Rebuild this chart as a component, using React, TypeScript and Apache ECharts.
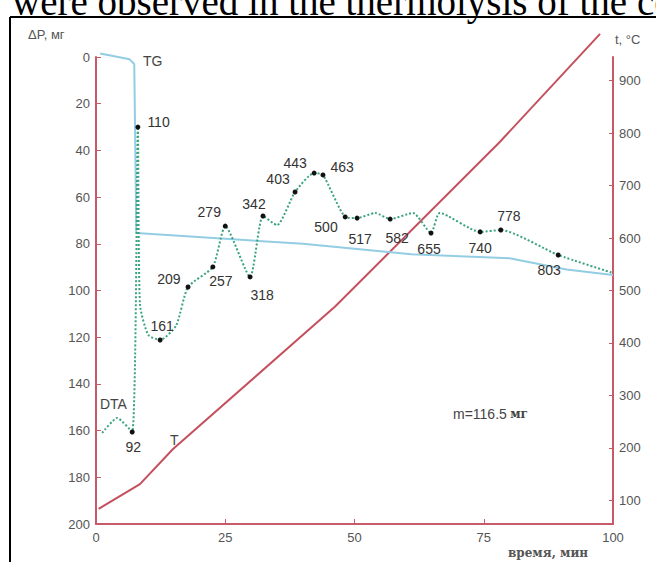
import { useEffect, useRef } from "react";
import * as echarts from "echarts";

// Temperature curve T (min, °C)
const tTime = [0.5, 8.5, 14.9, 46.2, 78.1, 97.5];
const tTemp = [84, 131, 198, 469, 783, 989];

// TG curve (min, mg)
const tgTime = [0.8, 6.5, 7.4, 7.8, 40, 61, 80, 91, 100];
const tgMass = [-1.5, 1, 3, 75.4, 80, 84.5, 86.2, 91, 93.4];

// DTA curve (min, plotted on mg scale) and peak temperature labels
const dtaTime = [1.2, 4.1, 7.0, 8.1, 8.5, 10.1, 12.4, 15.5, 17.8, 22.6, 25.0, 29.8, 32.3, 35.0, 38.5, 42.2, 43.9, 48.2, 50.5, 54.0, 56.9, 61.3, 64.8, 66.5, 74.3, 78.3, 89.4, 100];
const dtaValue = [161, 154.6, 160.6, 30, 106, 119, 121.2, 115, 98.5, 89.9, 72.4, 94.2, 68.1, 72, 57.8, 49.7, 50.5, 68.5, 69, 66.8, 69.4, 66.8, 75.4, 66.8, 74.9, 74.1, 84.8, 92.5];
const dtaLabel = ["", "", "92", "110", "", "", "161", "", "209", "257", "279", "318", "342", "", "403", "443", "463", "500", "517", "", "582", "", "655", "", "740", "778", "803", ""];

// Right axis tick labels (°C)
const tempTicks = [100, 200, 300, 400, 500, 600, 700, 800, 900];

// label placement (style only)
const labelPlace: Record<string, [string, number, number]> = {
  "92": ["bottom", 1, 0],
  "110": ["right", 2, -5],
  "161": ["top", 2, 0],
  "209": ["left", 0, -8],
  "257": ["bottom", 8, 0],
  "279": ["top", -16, 0],
  "318": ["bottom", 12, 4],
  "342": ["top", -9, 2],
  "403": ["top", -17, 2],
  "443": ["top", -19, 4],
  "463": ["right", 0, -8],
  "500": ["left", 0, 10],
  "517": ["bottom", 3, 6],
  "582": ["bottom", 7, 4],
  "655": ["bottom", -2, 1],
  "740": ["bottom", 0, 2],
  "778": ["top", 8, 0],
  "803": ["bottom", -9, 0],
};

const AXIS = "#c65a68";
const LBL = "#555";
const SANS = "Liberation Sans, Arial, sans-serif";

export default function App() {
  const ref = useRef<HTMLDivElement>(null);
  useEffect(() => {
    if (!ref.current) return;
    const chart = echarts.init(ref.current, undefined, { renderer: "svg" });
    const dtaData = dtaTime.map((t, i) => {
      const name = dtaLabel[i];
      const p = labelPlace[name] || ["top", 0, 0];
      return {
        value: [t, dtaValue[i]],
        symbolSize: name ? 5 : 0,
        label: {
          show: !!name,
          formatter: name,
          position: p[0] as any,
          offset: [p[1], p[2]],
          fontSize: 14,
          color: "#333",
          fontFamily: SANS,
        },
      };
    });
    chart.setOption({
      animation: false,
      grid: { left: 96, right: 43, top: 57, bottom: 38 },
      xAxis: {
        type: "value",
        min: 0,
        max: 100,
        interval: 25,
        axisLine: { onZero: false, lineStyle: { color: AXIS, width: 2 } },
        axisTick: { show: true, inside: true, length: 5, lineStyle: { color: AXIS } },
        axisLabel: { color: LBL, fontSize: 13, fontFamily: SANS, margin: 7 },
        splitLine: { show: false },
      },
      yAxis: [
        {
          type: "value",
          inverse: true,
          min: 0,
          max: 200,
          interval: 20,
          axisLine: { show: true, onZero: false, lineStyle: { color: AXIS, width: 2 } },
          axisTick: { show: true, inside: true, length: 5, lineStyle: { color: AXIS } },
          axisLabel: { color: LBL, fontSize: 13, fontFamily: SANS, margin: 6 },
          splitLine: { show: false },
        },
        {
          type: "value",
          position: "right",
          min: 55,
          max: 945,
          axisLine: { show: true, onZero: false, lineStyle: { color: AXIS, width: 2 } },
          axisTick: { show: true, inside: true, length: 4, customValues: tempTicks, lineStyle: { color: AXIS } },
          axisLabel: { color: LBL, fontSize: 13, fontFamily: SANS, margin: 6, customValues: tempTicks },
          splitLine: { show: false },
        },
      ],
      series: [
        {
          type: "line",
          yAxisIndex: 1,
          clip: false,
          symbol: "none",
          data: tTime.map((t, i) => [t, tTemp[i]]),
          lineStyle: { color: "#c4505e", width: 2 },
          z: 2,
        },
        {
          type: "line",
          yAxisIndex: 0,
          symbol: "none",
          data: tgTime.map((t, i) => [t, tgMass[i]]),
          lineStyle: { color: "#93cde3", width: 2 },
          clip: false,
          z: 3,
        },
        {
          type: "line",
          yAxisIndex: 0,
          smooth: 0.2,
          symbol: "circle",
          data: dtaData,
          itemStyle: { color: "#111" },
          lineStyle: { color: "#3aa37f", width: 2, type: "dotted" },
          z: 4,
        },
      ],
      graphic: [
        { type: "line", shape: { x1: 10, y1: 17, x2: 656, y2: 17 }, style: { stroke: "#000", lineWidth: 2 } },
        { type: "line", shape: { x1: 10, y1: 17, x2: 10, y2: 562 }, style: { stroke: "#000", lineWidth: 2 } },
        {
          type: "text",
          x: 12,
          y: -18,
          style: { text: "were observed in the thermolysis of the com", font: "39px 'Liberation Serif', 'Times New Roman', serif", fill: "#000", verticalAlign: "top" },
        },
        { type: "text", x: 28, y: 34, style: { text: "ΔP, мг", fontSize: 13, fontFamily: SANS, fill: LBL, verticalAlign: "middle" } },
        { type: "text", x: 615, y: 39, style: { text: "t, °C", fontSize: 13, fontFamily: SANS, fill: LBL, verticalAlign: "middle" } },
        { type: "text", x: 143, y: 61, style: { text: "TG", fontSize: 14, fontFamily: SANS, fill: "#444", verticalAlign: "middle" } },
        { type: "text", x: 100, y: 404, style: { text: "DTA", fontSize: 14, fontFamily: SANS, fill: "#444", verticalAlign: "middle" } },
        { type: "text", x: 170, y: 440, style: { text: "T", fontSize: 14, fontFamily: SANS, fill: "#444", verticalAlign: "middle" } },
        {
          type: "text",
          x: 453,
          y: 414,
          style: {
            text: "{a|m=116.5} {b|мг}",
            verticalAlign: "middle",
            rich: {
              a: { fontSize: 14, fontFamily: SANS, fill: "#444" },
              b: { fontSize: 12, fontFamily: "DejaVu Serif, serif", fontWeight: "bold", fill: "#444" },
            } as any,
          },
        },
        { type: "text", x: 508, y: 553, style: { text: "время, мин", fontSize: 12, fontFamily: "DejaVu Serif, serif", fontWeight: "bold", fill: "#555", verticalAlign: "middle" } },
      ],
    });
    return () => chart.dispose();
  }, []);
  return <div ref={ref} style={{ position: "absolute", left: 0, top: 0, width: 656, height: 562 }} />;
}
